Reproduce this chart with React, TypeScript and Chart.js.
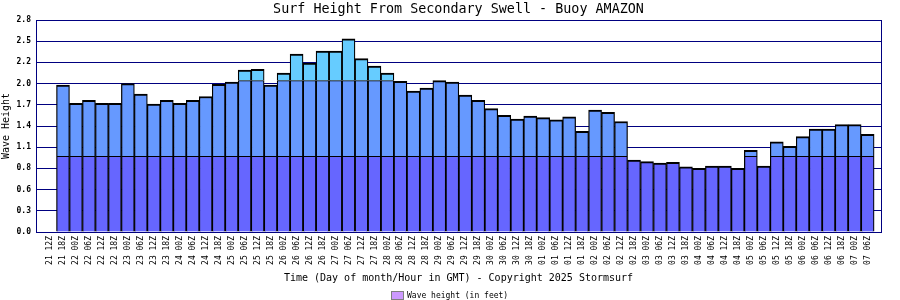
import React, { useEffect, useRef } from "react";
import { Chart, registerables } from "chart.js";

Chart.register(...registerables);

const FONT = "'DejaVu Sans Mono', monospace";

const titleText = "Surf Height From Secondary Swell - Buoy AMAZON";
const xAxisTitle = "Time (Day of month/Hour in GMT) - Copyright 2025 Stormsurf";
const yAxisTitle = "Wave Height";
const legendLabel = "Wave height (in feet)";

const timeLabels = [
  "21 12Z", "21 18Z",
  "22 00Z", "22 06Z", "22 12Z", "22 18Z",
  "23 00Z", "23 06Z", "23 12Z", "23 18Z",
  "24 00Z", "24 06Z", "24 12Z", "24 18Z",
  "25 00Z", "25 06Z", "25 12Z", "25 18Z",
  "26 00Z", "26 06Z", "26 12Z", "26 18Z",
  "27 00Z", "27 06Z", "27 12Z", "27 18Z",
  "28 00Z", "28 06Z", "28 12Z", "28 18Z",
  "29 00Z", "29 06Z", "29 12Z", "29 18Z",
  "30 00Z", "30 06Z", "30 12Z", "30 18Z",
  "01 00Z", "01 06Z", "01 12Z", "01 18Z",
  "02 00Z", "02 06Z", "02 12Z", "02 18Z",
  "03 00Z", "03 06Z", "03 12Z", "03 18Z",
  "04 00Z", "04 06Z", "04 12Z", "04 18Z",
  "05 00Z", "05 06Z", "05 12Z", "05 18Z",
  "06 00Z", "06 06Z", "06 12Z", "06 18Z",
  "07 00Z", "07 06Z",
];

const waveHeight = [
  0, 1.94,
  1.70, 1.74, 1.70, 1.70,
  1.96, 1.82, 1.69, 1.74,
  1.70, 1.74, 1.79, 1.95,
  1.98, 2.14, 2.15, 1.94,
  2.10, 2.35, 2.23, 2.39,
  2.39, 2.55, 2.29, 2.19,
  2.10, 1.99, 1.86, 1.90,
  2.00, 1.98, 1.81, 1.74,
  1.63, 1.54, 1.49, 1.53,
  1.51, 1.48, 1.52, 1.33,
  1.61, 1.58, 1.46, 0.95,
  0.93, 0.91, 0.92, 0.86,
  0.84, 0.87, 0.87, 0.84,
  1.08, 0.87, 1.19, 1.13,
  1.26, 1.36, 1.36, 1.42,
  1.42, 1.29,
];

const yTickLabels = ["0.0", "0.3", "0.6", "0.8", "1.1", "1.4", "1.7", "2.0", "2.2", "2.5", "2.8"];
const yMax = 2.8;
const bandLimits = [1.0, 2.0];
const bandColors = ["#6666ff", "#6699ff", "#66ccff"];
const legendColor = "#cc99ff";

function bandValue(v: number, band: number): number | null {
  const lo = band === 0 ? 0 : bandLimits[band - 1];
  const hi = band < bandLimits.length ? bandLimits[band] : Infinity;
  if (v <= lo) return null;
  return Math.min(v, hi) - lo;
}

function topBand(v: number): number {
  let b = 0;
  for (let k = 0; k < bandLimits.length; k++) if (v > bandLimits[k]) b = k + 1;
  return b;
}

const decorPlugin = {
  id: "decor",
  afterDatasetsDraw(chart: any) {
    const { ctx, chartArea: a } = chart;
    ctx.save();
    ctx.strokeStyle = "#000080";
    ctx.lineWidth = 1;
    const l = Math.floor(a.left) + 0.5;
    const t = Math.floor(a.top) + 0.5;
    const r = Math.floor(a.right) + 0.5;
    const b = Math.floor(a.bottom) + 0.5;
    ctx.strokeRect(l, t, r - l, b - t);
    ctx.restore();
  },
  afterDraw(chart: any) {
    const { ctx, chartArea: a } = chart;
    ctx.save();
    ctx.fillStyle = "#000";
    ctx.font = `13.4px ${FONT}`;
    ctx.textAlign = "center";
    ctx.textBaseline = "alphabetic";
    ctx.fillText(titleText, (a.left + a.right) / 2, 13);
    ctx.font = `8px ${FONT}`;
    ctx.textAlign = "left";
    const textW = ctx.measureText(legendLabel).width;
    const boxW = 12;
    const gap = 4;
    const total = boxW + gap + textW;
    const x0 = Math.round(chart.width / 2 - total / 2);
    ctx.fillStyle = legendColor;
    ctx.fillRect(x0, 292, boxW, 7);
    ctx.strokeStyle = "#808080";
    ctx.lineWidth = 1;
    ctx.strokeRect(x0 + 0.5, 291.5, boxW, 8);
    ctx.fillStyle = "#000";
    ctx.fillText(legendLabel, x0 + boxW + gap, 297.5);
    ctx.restore();
  },
};

export default function App() {
  const ref = useRef<HTMLCanvasElement>(null);

  useEffect(() => {
    const canvas = ref.current;
    if (!canvas) return;

    const datasets = bandColors.map((color, band) => ({
      label: legendLabel,
      data: waveHeight.map((v, i) => ({ x: i, y: bandValue(v, band) })),
      backgroundColor: color,
      borderColor: "#000000",
      borderWidth: (ctx: any) => {
        const v = waveHeight[ctx.dataIndex] ?? 0;
        return { top: topBand(v) === band ? 2 : 1, left: 1.25, right: 1.25, bottom: 0 };
      },
      borderSkipped: "start" as const,
      barPercentage: 1,
      categoryPercentage: 1,
    }));

    const chart = new Chart(canvas, {
      type: "bar",
      data: { datasets },
      options: {
        animation: false,
        responsive: false,
        devicePixelRatio: 1,
        events: [],
        layout: { padding: { top: 20, right: 19, bottom: 0, left: 0 } },
        plugins: {
          legend: { display: false },
          title: { display: false },
          tooltip: { enabled: false },
        },
        scales: {
          x: {
            type: "linear",
            stacked: true,
            min: -1.079,
            max: 64.03,
            offset: false,
            afterBuildTicks: (axis: any) => {
              axis.ticks = timeLabels.map((_, i) => ({ value: i }));
            },
            afterFit: (s: any) => {
              s.height = 68;
            },
            grid: { display: false, offset: false, drawTicks: false },
            border: { display: true, color: "#000080" },
            ticks: {
              autoSkip: false,
              minRotation: 90,
              maxRotation: 90,
              padding: 4,
              color: "#000",
              font: { family: FONT, size: 8 },
              callback: (v: any) => timeLabels[Math.round(Number(v))] ?? "",
            },
            title: {
              display: true,
              text: xAxisTitle,
              color: "#000",
              font: { family: FONT, size: 10 },
              padding: { top: 0, bottom: 15.5 },
            },
          },
          y: {
            type: "linear",
            stacked: true,
            min: 0,
            max: yMax,
            afterBuildTicks: (axis: any) => {
              axis.ticks = yTickLabels.map((_, i) => ({ value: (i * yMax) / (yTickLabels.length - 1) }));
            },
            afterFit: (s: any) => {
              s.width = 36;
            },
            grid: { color: "#000080", lineWidth: 1, drawTicks: false },
            border: { display: true, color: "#000080" },
            ticks: {
              padding: 5,
              color: "#000",
              font: { family: FONT, size: 8, weight: "bold" },
              callback: (_v: any, i: number) => yTickLabels[i],
            },
            title: {
              display: true,
              text: yAxisTitle,
              color: "#000",
              font: { family: FONT, size: 10 },
              padding: { top: 0.5, bottom: 0 },
            },
          },
        },
      } as any,
      plugins: [decorPlugin],
    });

    return () => chart.destroy();
  }, []);

  return (
    <div style={{ position: "absolute", left: 0, top: 0, width: 900, height: 300, background: "#ffffff" }}>
      <canvas ref={ref} width={900} height={300} style={{ display: "block" }} />
    </div>
  );
}
